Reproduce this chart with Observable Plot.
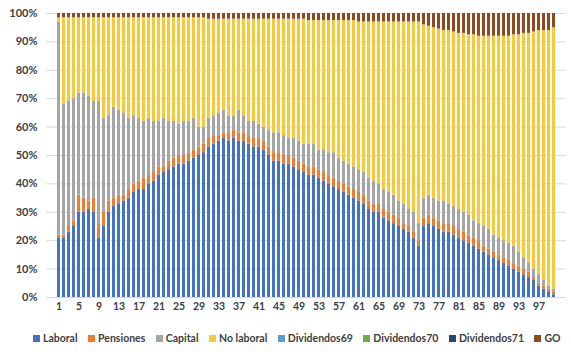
<!DOCTYPE html>
<html>
<head>
<meta charset="utf-8">
<script src="https://cdn.jsdelivr.net/npm/d3@7"></script>
<script src="https://cdn.jsdelivr.net/npm/@observablehq/plot@0.6"></script>
<style>
  body { margin: 0; background: #fff; }
  #chart { position: relative; width: 571px; height: 354px; font-family: Lato, "Open Sans", sans-serif; }
  #chart svg { position: absolute; left: 0; top: 0; }
  .legend { position: absolute; left: 33px; top: 332px; display: flex; gap: 10.5px; font-size: 10.5px; font-weight: 700; color: #404040; white-space: nowrap; }
  .legend span { display: inline-flex; align-items: center; }
  .legend i { display: inline-block; width: 7px; height: 7px; margin-right: 3px; }
</style>
</head>
<body>
<div id="chart"></div>
<script>
// Income composition by percentile (share of total, %)
const percentiles = d3.range(1, 101);
const xTickLabels = [1, 5, 9, 13, 17, 21, 25, 29, 33, 37, 41, 45, 49, 53, 57, 61, 65, 69, 73, 77, 81, 85, 89, 93, 97];
const yTicks = [0, 10, 20, 30, 40, 50, 60, 70, 80, 90, 100];

const laboral = [21,21,23,25,30,30,31,30,21,25, 30,32,33,34,35,37,38,38,40,41, 43,44,45,46,47,47,48,49,50,51,
  53,54,55,56,55,56,55,55,54,53, 53,52,50,48,48,47,47,46,45,44, 43,43,42,41,40,39,38,37,36,35,
  34,33,31,30,30,28,27,26,25,24, 23,21,18,25,26,25,24,23,23,22, 21,20,19,18,17,16,15,14,13,12,
  11,10,9,8,7,6,4,3,2,1];
const pensiones = [1,1,2,2,6,5,3,5,5,5, 4,3,3,2,3,3,3,4,3,3, 3,2,3,3,3,3,3,3,3,3,
  3,3,2,2,3,3,3,3,3,3, 3,3,3,3,3,3,3,3,3,3, 3,3,3,3,3,3,3,3,3,3,
  3,3,3,3,3,3,3,3,3,2, 2,2,2,3,3,3,3,3,3,3, 3,3,3,3,3,2,2,2,2,2,
  2,2,2,2,2,1,1,1,1,1];
const capital = [75,46,44,43,36,37,37,34,43,33, 30,32,30,29,25,24,22,20,20,18, 16,17,14,13,11,12,11,11,7,6,
  7,7,8,8,6,5,8,6,5,6, 5,5,6,7,7,7,6,7,7,7, 8,8,7,8,8,9,8,8,8,8,
  8,8,8,8,7,7,7,7,6,7, 6,7,6,7,7,7,7,8,7,7, 7,7,7,6,6,7,7,6,6,6,
  6,6,5,4,3,3,3,2,1,1];
const noLaboral = [1.5,30.5,29.5,28.5,26.5,26.5,27.5,29.5,29.5,35.5, 34.5,31.5,32.5,33.5,35.5,34.5,35.5,36.5,35.5,36.5,
  36.5,35.5,36.5,36.5,37.5,36.5,36.5,35.5,38.5,38.5,
  35,34,33,32,34,34,32,34,36,36, 37,38,39,40,40,41,42,42,43,44,
  43.5,43.5,45.5,45.5,46.5,46.5,48.5,49.5,50.5,51.5,
  52,53,55,56,57,59,60,61,63,64, 66,67,71,61,59.5,60,60.5,60,61,61.5,
  62,63,63.5,65.5,66,67,68,70,71,72, 73,74.5,76.5,79,81,83.5,86,88,90,92];
const dividendos69 = [0,0,0,0,0,0,0,0,0,0, 0,0,0,0,0,0,0,0,0,0, 0,0,0,0,0,0,0,0,0,0,
  0,0,0,0,0,0,0,0,0,0, 0,0,0,0,0,0,0,0,0,0, 0,0,0,0,0,0,0,0,0,0,
  0,0,0,0,0,0,0,0,0,0, 0,0,0,0,0,0,0,0,0,0, 0,0,0,0,0,0,0,0,0,0, 0,0,0,0,0,0,0,0,0,0];
const dividendos70 = [0,0,0,0,0,0,0,0,0,0, 0,0,0,0,0,0,0,0,0,0, 0,0,0,0,0,0,0,0,0,0,
  0,0,0,0,0,0,0,0,0,0, 0,0,0,0,0,0,0,0,0,0, 0,0,0,0,0,0,0,0,0,0,
  0,0,0,0,0,0,0,0,0,0, 0,0,0,0,0,0,0,0,0,0, 0,0,0,0,0,0,0,0,0,0, 0,0,0,0,0,0,0,0,0,0];
const dividendos71 = [0,0,0,0,0,0,0,0,0,0, 0,0,0,0,0,0,0,0,0,0, 0,0,0,0,0,0,0,0,0,0,
  0,0,0,0,0,0,0,0,0,0, 0,0,0,0,0,0,0,0,0,0, 0,0,0,0,0,0,0,0,0,0,
  0,0,0,0,0,0,0,0,0,0, 0,0,0,0,0,0,0,0,0,0, 0,0,0,0,0,0,0,0,0,0, 0,0,0,0,0,0,0,0,0,0];
const go = [1.5,1.5,1.5,1.5,1.5,1.5,1.5,1.5,1.5,1.5, 1.5,1.5,1.5,1.5,1.5,1.5,1.5,1.5,1.5,1.5,
  1.5,1.5,1.5,1.5,1.5,1.5,1.5,1.5,1.5,1.5,
  2,2,2,2,2,2,2,2,2,2, 2,2,2,2,2,2,2,2,2,2,
  2.5,2.5,2.5,2.5,2.5,2.5,2.5,2.5,2.5,2.5,
  3,3,3,3,3,3,3,3,3,3, 3,3,3,4,4.5,5,5.5,6,6,6.5,
  7,7,7.5,7.5,8,8,8,8,8,8, 8,7.5,7.5,7,7,6.5,6,6,6,5];

const seriesNames = ["Laboral", "Pensiones", "Capital", "No laboral", "Dividendos69", "Dividendos70", "Dividendos71", "GO"];
const seriesValues = [laboral, pensiones, capital, noLaboral, dividendos69, dividendos70, dividendos71, go];
const seriesColors = ["#4472C4", "#ED7D31", "#A5A5A5", "#F7C83A", "#5B9BD5", "#70AD47", "#264478", "#8E4A1E"];

// Long table: one row per percentile and component, in stacking order
const rows = [];
seriesNames.forEach((name, k) => {
  percentiles.forEach((p, i) => rows.push({p, serie: name, v: seriesValues[k][i]}));
});

const chart = Plot.plot({
  width: 571,
  height: 318,
  marginLeft: 46,
  marginRight: 5,
  marginTop: 13,
  marginBottom: 21,
  style: {fontFamily: "Lato, 'Open Sans', sans-serif", background: "transparent"},
  x: {type: "band", domain: percentiles, padding: 0.33, axis: null},
  y: {domain: [0, 100], axis: null},
  color: {domain: seriesNames, range: seriesColors},
  marks: [
    Plot.gridY(yTicks, {stroke: "#d9d9d9", strokeOpacity: 1}),
    Plot.barY(rows, Plot.stackY({x: "p", y: "v", fill: "serie", order: seriesNames})),
    Plot.axisY(yTicks, {label: null, tickSize: 0, tickPadding: 9, tickFormat: d => d + "%", fontSize: 11, fontWeight: 700, fill: "#404040"}),
    Plot.axisX(xTickLabels, {label: null, tickSize: 0, tickPadding: 5, fontSize: 10.5, fontWeight: 700, fill: "#404040"})
  ]
});

const root = document.getElementById("chart");
root.appendChild(chart);

const legend = document.createElement("div");
legend.className = "legend";
seriesNames.forEach((name, k) => {
  const item = document.createElement("span");
  const sw = document.createElement("i");
  sw.style.background = seriesColors[k];
  item.appendChild(sw);
  item.appendChild(document.createTextNode(name));
  legend.appendChild(item);
});
root.appendChild(legend);
</script>
</body>
</html>
